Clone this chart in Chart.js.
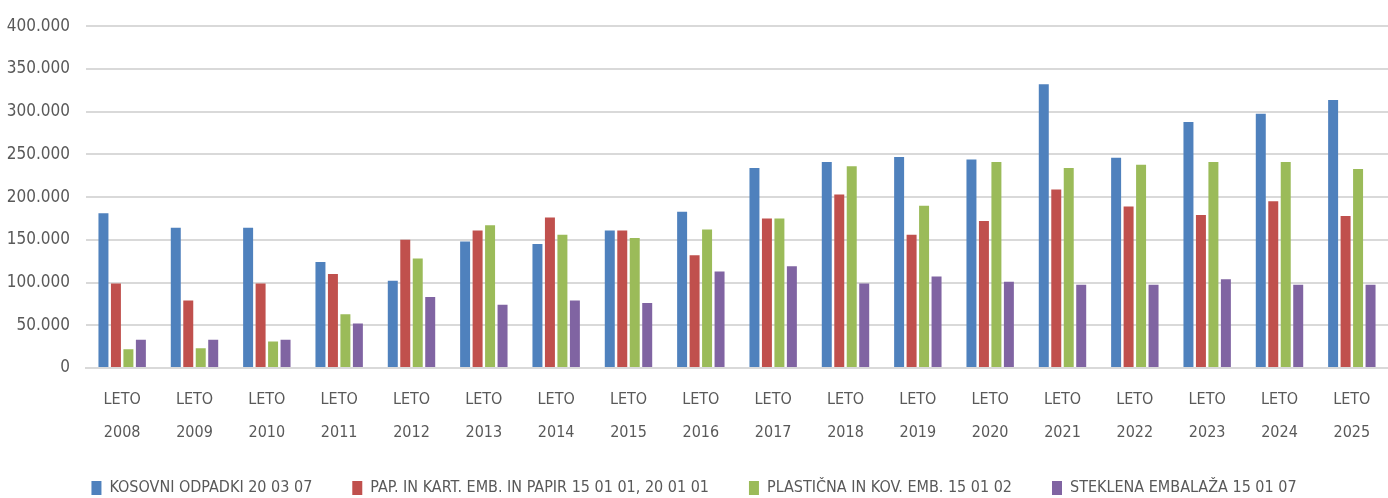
<!DOCTYPE html>
<html>
<head>
<meta charset="utf-8">
<script src="https://cdn.jsdelivr.net/npm/chart.js@4"></script>
<style>
  html, body { margin: 0; padding: 0; background: #fff; }
  #wrap { width: 1388px; height: 498px; position: relative; }
</style>
</head>
<body>
<div id="wrap"><canvas id="myChart"></canvas></div>
<script>
'use strict';

// ***** data *****
const years = ['2008', '2009', '2010', '2011', '2012', '2013', '2014', '2015', '2016',
  '2017', '2018', '2019', '2020', '2021', '2022', '2023', '2024', '2025'];

const seriesNames = [
  'KOSOVNI ODPADKI 20 03 07',
  'PAP. IN KART. EMB. IN PAPIR 15 01 01, 20 01 01',
  'PLASTIČNA IN KOV. EMB. 15 01 02',
  'STEKLENA EMBALAŽA 15 01 07'
];

const kosovni = [181000, 164000, 164000, 124000, 102000, 148000, 145000, 161000, 183000,
  234000, 241000, 247000, 244000, 332000, 246000, 288000, 297500, 313500];
const papir = [99000, 79000, 99000, 110000, 150000, 161000, 176000, 161000, 132000,
  175000, 203000, 156000, 172000, 209000, 189000, 179000, 195000, 178000];
const plastika = [22000, 23000, 31000, 63000, 128000, 167000, 156000, 152000, 162000,
  175000, 236000, 190000, 241000, 234000, 238000, 241000, 241000, 233000];
const steklo = [33000, 33000, 33000, 52000, 83000, 74000, 79000, 76000, 113000,
  119000, 99000, 107000, 101000, 97500, 97500, 104000, 97500, 97500];

const yMax = 400000;
const yStep = 50000;

const colors = ['#4f81bd', '#c0504d', '#9bbb59', '#8064a2'];
const fontFamily = "'DejaVu Sans Condensed', 'Liberation Sans Narrow', sans-serif";

// ***** helpers *****
function formatThousands(v) {
  return String(v).replace(/\B(?=(\d{3})+(?!\d))/g, '.');
}

let labels = years.map(y => ['LETO', y]);
let allSeries = [kosovni, papir, plastika, steklo];

let datasets = [];
for (let i = 0; i < allSeries.length; i++) {
  datasets.push({
    label: seriesNames[i],
    data: allSeries[i],
    backgroundColor: colors[i],
    borderWidth: 0,
    barPercentage: 0.8,
    categoryPercentage: 0.69
  });
}

const ctx = document.getElementById('myChart').getContext('2d');

const myChart = new Chart(ctx, {
  type: 'bar',
  data: {
    labels: labels,
    datasets: datasets
  },
  options: {
    responsive: true,
    maintainAspectRatio: false,
    animation: false,
    layout: {
      padding: { top: 22, right: 0, left: 0, bottom: 0 }
    },
    plugins: {
      tooltip: { enabled: false },
      legend: {
        position: 'bottom',
        maxHeight: 58,
        labels: {
          boxWidth: 10,
          boxHeight: 14,
          padding: 40,
          color: '#595959',
          font: { family: fontFamily, size: 16 }
        }
      }
    },
    scales: {
      x: {
        grid: { display: false, drawTicks: false },
        border: { color: '#d9d9d9', width: 2 },
        ticks: {
          color: '#595959',
          padding: 15,
          maxRotation: 0,
          autoSkip: false,
          font: { family: fontFamily, size: 16, lineHeight: 2.06 }
        },
        afterFit: function (scale) { scale.height = 72; }
      },
      y: {
        min: 0,
        max: yMax,
        border: { display: false },
        grid: { color: '#d9d9d9', lineWidth: 2, drawTicks: false },
        ticks: {
          stepSize: yStep,
          color: '#595959',
          padding: 16,
          font: { family: fontFamily, size: 17 },
          callback: function (v) { return formatThousands(v); }
        },
        afterFit: function (scale) { scale.width = 86; }
      }
    }
  }
});
</script>
</body>
</html>
